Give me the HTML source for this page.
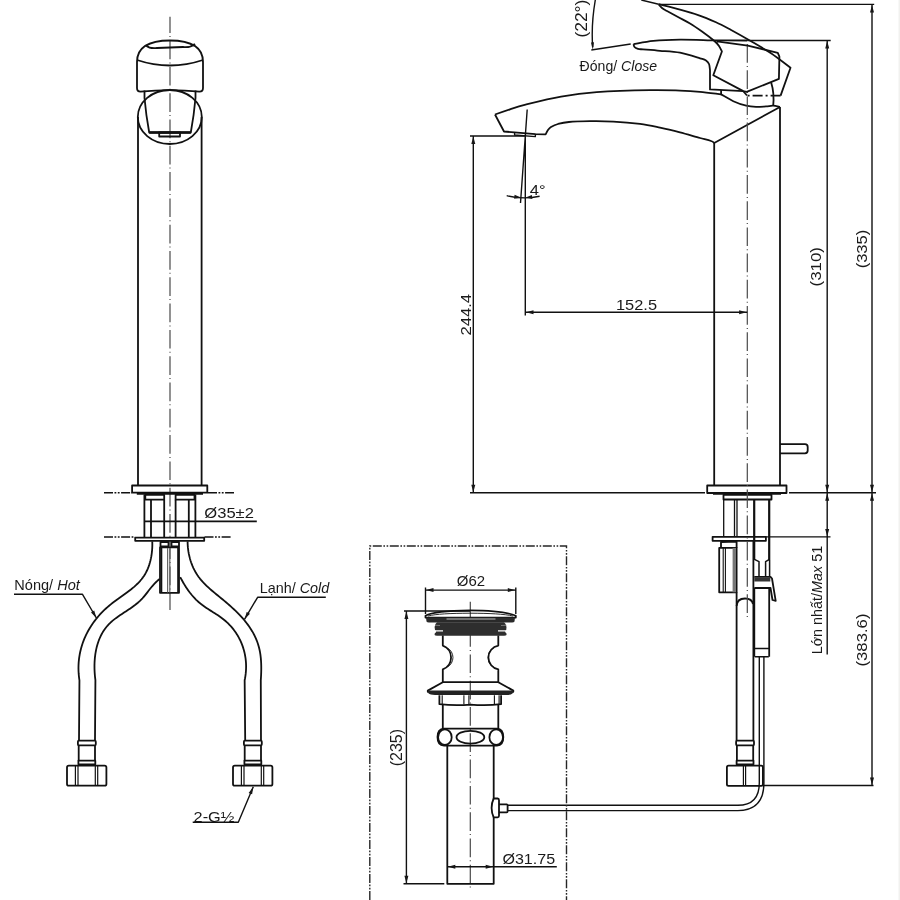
<!DOCTYPE html>
<html><head><meta charset="utf-8"><style>
html,body{margin:0;padding:0;background:#fff;}
svg{display:block;will-change:transform;}
.s{fill:none;stroke:#111;stroke-width:1.8;stroke-linejoin:round;}
.thin{stroke-width:1.4;}
.c{fill:none;stroke:#4a4a4a;stroke-width:1.2;}
.d{fill:none;stroke:#111;stroke-width:1.6;}
.f{fill:#161616;stroke:none;}
.t{font-family:"Liberation Sans",sans-serif;font-size:15px;fill:#1a1a1a;}
</style></head><body>
<svg width="900" height="900" viewBox="0 0 900 900">
<rect x="0" y="0" width="900" height="900" fill="#fff"/>
<rect x="898.5" y="0" width="1.5" height="900" fill="#f1f1ef"/>
<line x1="170" y1="16.7" x2="170" y2="610" class="c" stroke-dasharray="18.7 3.1 1 3.5" stroke-dashoffset="2.4"/>
<path d="M137,62 C137,44 155,40.5 170,40.5 C185,40.5 203,44 203,62 L203,88 Q203,91.7 199.5,91.7 Q170,88.6 140.5,91.7 Q137,91.7 137,88 Z" class="s"/>
<path d="M137,60 Q170,71 203,60" class="s"/>
<path d="M146,45.5 Q150,49 157,48 L183,47 Q190,48 195,44" class="s"/>
<path d="M144.5,90.5 L144.5,98" class="s"/><path d="M195.5,90.5 L195.5,98" class="s"/>
<ellipse cx="169.8" cy="117" rx="32" ry="27" class="s"/>
<path d="M144.5,98 Q146,115 149.2,132.5 L190.8,132.5 Q194,115 195.5,98" class="s"/>
<path d="M149.2,132.5 L190.8,132.5" class="s" style="stroke-width:2.4"/>
<rect x="159.2" y="132.5" width="20.8" height="4" class="s"/>
<path d="M138,117 L138,485.5 M201.6,117 L201.6,485.5" class="s"/>
<rect x="132.1" y="485.5" width="75.2" height="7.2" class="s"/>
<line x1="136.8" y1="493.8" x2="203" y2="493.8" class="s" style="stroke-width:2"/>
<line x1="104" y1="492.7" x2="132" y2="492.7" class="d" stroke-dasharray="9 1.5 1.8 1.5 1.8 1.5"/>
<line x1="208" y1="492.7" x2="234" y2="492.7" class="d" stroke-dasharray="9 1.5 1.8 1.5 1.8 1.5"/>
<line x1="104" y1="537" x2="135" y2="537" class="d" stroke-dasharray="9 1.5 1.8 1.5 1.8 1.5"/>
<line x1="204.5" y1="537" x2="231" y2="537" class="d" stroke-dasharray="9 1.5 1.8 1.5 1.8 1.5"/>
<path d="M144.4,494.5 L144.4,537 M195.4,494.5 L195.4,537 M151,499.7 L151,537 M164.2,499.7 L164.2,537 M175.6,499.7 L175.6,537 M188.8,499.7 L188.8,537" class="s"/>
<path d="M145.3,494.8 L164.2,494.8 L164.2,499.7 L145.3,499.7 Z M175.6,494.8 L194.5,494.8 L194.5,499.7 L175.6,499.7 Z" class="s"/>
<line x1="144.4" y1="521.4" x2="256.8" y2="521.4" class="s"/>
<text x="204.3" y="517.5" textLength="49.6" lengthAdjust="spacingAndGlyphs" class="t">Ø35±2</text>
<rect x="135.2" y="537.6" width="69" height="3.2" class="s"/>
<path d="M160.5,542 L168.5,542 L168.5,546.5 L160.5,546.5 Z M171.5,542 L179,542 L179,546.5 L171.5,546.5 Z" class="s"/>
<rect x="160" y="547.4" width="19" height="45.4" class="s"/>
<path d="M161.5,548 L161.5,592.5 M178,548 L178,592.5" class="s" style="stroke-width:1.6"/>
<path d="M167.6,548 L167.6,592.5 M169.8,548 L169.8,592.5" stroke="#666" stroke-width="1.2"/>
<path d="M152.26,541.35 L152.32,543.44 L152.32,545.56 L152.25,547.69 L152.12,549.83 L151.92,551.98 L151.66,554.12 L151.33,556.26 L150.93,558.38 L150.45,560.49 L149.91,562.57 L149.29,564.62 L148.60,566.63 L147.83,568.60 L146.98,570.52 L146.05,572.39 L145.04,574.19 L143.95,575.93 L142.78,577.61 L141.54,579.22 L140.23,580.78 L138.85,582.29 L137.42,583.76 L135.94,585.18 L134.41,586.56 L132.83,587.91 L131.22,589.23 L129.57,590.52 L127.90,591.80 L126.20,593.06 L124.49,594.30 L122.76,595.54 L121.03,596.78 L119.29,598.02 L117.56,599.27 L115.84,600.52 L114.12,601.79 L112.43,603.08 L110.76,604.39 L109.12,605.73 L107.51,607.11 L105.93,608.51 L104.39,609.95 L102.89,611.42 L101.42,612.91 L99.99,614.44 L98.60,616.00 L97.25,617.59 L95.94,619.20 L94.67,620.85 L93.44,622.52 L92.25,624.21 L91.11,625.94 L90.01,627.69 L88.96,629.46 L87.95,631.26 L86.99,633.08 L86.07,634.93 L85.20,636.80 L84.38,638.69 L83.61,640.60 L82.90,642.53 L82.23,644.49 L81.61,646.46 L81.05,648.45 L80.54,650.47 L80.08,652.50 L79.68,654.54 L79.34,656.61 L79.05,658.69 L78.82,660.79 L78.64,662.90 L78.53,665.03 L78.47,667.17 L78.48,669.33 L78.55,671.50 L78.68,673.68 L78.87,675.87 L79.12,678.08 L79.44,680.30 L79,740.7" class="s"/>
<path d="M159.64,579.01 L158.33,580.05 L157.09,581.13 L155.89,582.25 L154.75,583.40 L153.65,584.59 L152.58,585.80 L151.54,587.04 L150.52,588.29 L149.52,589.55 L148.53,590.81 L147.55,592.08 L146.56,593.35 L145.57,594.60 L144.56,595.84 L143.52,597.07 L142.47,598.27 L141.37,599.44 L140.24,600.58 L139.07,601.69 L137.86,602.76 L136.61,603.80 L135.33,604.82 L134.02,605.81 L132.69,606.78 L131.34,607.74 L129.97,608.68 L128.59,609.60 L127.21,610.52 L125.81,611.44 L124.42,612.35 L123.02,613.26 L121.64,614.17 L120.26,615.10 L118.89,616.03 L117.55,616.97 L116.22,617.92 L114.92,618.90 L113.65,619.90 L112.41,620.92 L111.20,621.96 L110.04,623.04 L108.91,624.15 L107.84,625.30 L106.81,626.48 L105.83,627.70 L104.89,628.94 L104.00,630.22 L103.16,631.54 L102.36,632.87 L101.60,634.24 L100.88,635.64 L100.21,637.05 L99.58,638.50 L98.98,639.96 L98.43,641.45 L97.92,642.95 L97.45,644.48 L97.01,646.02 L96.61,647.58 L96.25,649.15 L95.92,650.73 L95.63,652.33 L95.37,653.94 L95.15,655.55 L94.96,657.18 L94.80,658.81 L94.68,660.45 L94.58,662.09 L94.52,663.73 L94.48,665.38 L94.48,667.02 L94.50,668.67 L94.55,670.31 L94.63,671.95 L94.74,673.58 L94.87,675.21 L95.02,676.83 L95.20,678.44 L95.41,680.04 L95,740.7" class="s"/>
<path d="M187.60,541.37 L187.64,543.47 L187.75,545.57 L187.92,547.68 L188.17,549.79 L188.48,551.90 L188.86,553.99 L189.31,556.07 L189.83,558.14 L190.41,560.18 L191.06,562.20 L191.78,564.19 L192.57,566.15 L193.42,568.06 L194.34,569.94 L195.33,571.77 L196.38,573.55 L197.49,575.28 L198.67,576.95 L199.91,578.57 L201.20,580.15 L202.54,581.68 L203.93,583.17 L205.37,584.63 L206.84,586.06 L208.34,587.46 L209.88,588.84 L211.44,590.20 L213.02,591.54 L214.62,592.88 L216.24,594.20 L217.86,595.53 L219.49,596.85 L221.12,598.18 L222.75,599.52 L224.37,600.86 L225.99,602.22 L227.59,603.60 L229.18,604.98 L230.76,606.38 L232.32,607.80 L233.86,609.23 L235.38,610.68 L236.88,612.15 L238.35,613.63 L239.79,615.13 L241.21,616.66 L242.59,618.20 L243.94,619.77 L245.26,621.36 L246.53,622.97 L247.77,624.61 L248.97,626.27 L250.12,627.95 L251.22,629.67 L252.28,631.41 L253.28,633.17 L254.23,634.97 L255.13,636.80 L255.97,638.66 L256.75,640.54 L257.47,642.46 L258.13,644.42 L258.72,646.41 L259.24,648.43 L259.70,650.48 L260.09,652.57 L260.41,654.68 L260.68,656.81 L260.89,658.96 L261.05,661.12 L261.16,663.28 L261.23,665.43 L261.26,667.59 L261.25,669.73 L261.21,671.85 L261.14,673.96 L261.05,676.04 L260.93,678.08 L260.79,680.09 L261,740.7" class="s"/>
<path d="M180.24,577.06 L181.01,578.55 L181.80,580.03 L182.61,581.50 L183.43,582.94 L184.28,584.37 L185.14,585.78 L186.02,587.16 L186.93,588.53 L187.85,589.88 L188.81,591.20 L189.78,592.50 L190.78,593.78 L191.80,595.03 L192.86,596.26 L193.94,597.46 L195.05,598.63 L196.18,599.78 L197.35,600.89 L198.55,601.98 L199.79,603.04 L201.05,604.06 L202.35,605.06 L203.68,606.03 L205.03,606.98 L206.40,607.91 L207.78,608.82 L209.18,609.72 L210.58,610.62 L211.99,611.51 L213.41,612.40 L214.81,613.30 L216.21,614.20 L217.60,615.11 L218.98,616.04 L220.34,616.98 L221.67,617.95 L222.98,618.94 L224.25,619.96 L225.50,621.01 L226.71,622.09 L227.89,623.20 L229.04,624.34 L230.15,625.51 L231.23,626.70 L232.27,627.92 L233.28,629.17 L234.25,630.44 L235.19,631.73 L236.09,633.05 L236.95,634.39 L237.78,635.76 L238.57,637.14 L239.32,638.55 L240.04,639.98 L240.72,641.42 L241.36,642.89 L241.96,644.37 L242.52,645.87 L243.04,647.39 L243.52,648.93 L243.96,650.47 L244.36,652.04 L244.73,653.62 L245.04,655.21 L245.32,656.81 L245.56,658.43 L245.75,660.05 L245.90,661.69 L246.01,663.34 L246.07,665.00 L246.09,666.66 L246.07,668.33 L246.00,670.01 L245.89,671.70 L245.73,673.39 L245.53,675.09 L245.28,676.79 L244.99,678.50 L244.65,680.20 L245.2,740.7" class="s"/>
<rect x="77.9" y="740.7" width="17.900000000000002" height="4.6" rx="1" class="s"/><path d="M78.7,745.3 L78.7,760.7 M95.0,745.3 L95.0,760.7" class="s"/><rect x="78.4" y="760.7" width="16.900000000000002" height="3.6" class="s"/><rect x="67.0" y="765.7" width="39.4" height="20" rx="1.8" class="s"/><path d="M75.4,766 L75.4,785.5 M78.0,766 L78.0,785.5 M95.3,766 L95.3,785.5 M97.7,766 L97.7,785.5" class="s" style="stroke-width:1.2"/>
<rect x="243.89999999999998" y="740.7" width="17.900000000000002" height="4.6" rx="1" class="s"/><path d="M244.7,745.3 L244.7,760.7 M261.0,745.3 L261.0,760.7" class="s"/><rect x="244.39999999999998" y="760.7" width="16.900000000000002" height="3.6" class="s"/><rect x="233.0" y="765.7" width="39.4" height="20" rx="1.8" class="s"/><path d="M241.39999999999998,766 L241.39999999999998,785.5 M244.0,766 L244.0,785.5 M261.3,766 L261.3,785.5 M263.7,766 L263.7,785.5" class="s" style="stroke-width:1.2"/>
<text x="14.3" y="590.2" textLength="65.5" lengthAdjust="spacingAndGlyphs" class="t">Nóng/ <tspan font-style="italic">Hot</tspan></text>
<path d="M14,594.3 L82.5,594.3 L96.4,618" class="s thin"/>
<path d="M96.4,618.0 L91.0,612.5 L94.2,610.6 Z" class="f"/>
<text x="259.7" y="592.7" textLength="69.5" lengthAdjust="spacingAndGlyphs" class="t">Lạnh/ <tspan font-style="italic">Cold</tspan></text>
<path d="M325.8,597.3 L257.6,597.3 L244.5,619.3" class="s thin"/>
<path d="M244.5,619.3 L246.7,611.9 L250.0,613.8 Z" class="f"/>
<text x="193.6" y="821.7" textLength="40.8" lengthAdjust="spacingAndGlyphs" class="t">2-G½</text>
<path d="M192.7,822.3 L238.3,822.3 L253.3,786.7" class="s thin"/>
<path d="M253.3,786.7 L252.1,794.3 L248.6,792.9 Z" class="f"/>
<path d="M495.0,114.5 C497.5,113.6 504.9,111.0 510.0,109.3 C515.1,107.6 517.1,106.7 525.6,104.6 C534.1,102.5 549.2,98.7 561.1,96.6 C573.0,94.5 581.9,93.2 596.7,92.1 C611.5,91.0 636.1,90.3 650.0,90.1 C663.9,89.8 671.7,90.3 680.0,90.6 C688.3,90.9 693.1,91.2 700.0,91.8 C706.9,92.4 717.6,94.0 721.1,94.4" class="s"/>
<path d="M721.1,94.4 C723.1,95.5 729.1,99.3 733.3,101.2 C737.5,103.1 742.4,104.8 746.2,105.7 C750.0,106.7 752.7,106.8 756.0,106.9 C759.3,107.0 763.1,106.6 766.0,106.4 C768.9,106.2 770.8,105.6 773.1,105.7 C775.4,105.8 778.9,106.8 780.0,107.0" class="s"/>
<path d="M495,114.5 L504,131.5 L514.4,132.4 L535.5,134.2 L545.6,134.4  C546.0,133.7 547.1,131.2 548.0,130.0 C548.9,128.8 549.3,128.0 551.0,127.0 C552.7,126.0 555.0,124.8 558.0,124.0 C561.0,123.2 563.6,122.5 568.9,122.0 C574.2,121.5 582.6,121.3 590.0,121.2 C597.4,121.1 605.0,121.1 613.3,121.6 C621.6,122.0 632.2,122.9 640.0,123.9 C647.8,124.9 653.3,126.2 660.0,127.6 C666.7,129.0 673.3,130.6 680.0,132.3 C686.7,134.0 694.8,136.6 700.0,138.0 C705.2,139.4 708.6,140.2 711.0,141.0 C713.4,141.8 713.7,142.7 714.2,143.0" class="s"/>
<path d="M514.6,132.6 L514.6,135 L535.3,136.6 L535.5,134.4" class="s thin"/>
<path d="M714.2,143 L780,107 M714.2,143 L714.2,485.5 M780,107 L780,485.5" class="s"/>
<path d="M780,444.2 L805,444.2 Q807.7,444.2 807.7,447 L807.7,450.6 Q807.7,453.3 805,453.3 L780,453.3" class="s"/>
<rect x="707.2" y="485.5" width="79.3" height="7.5" class="s"/>
<line x1="713" y1="493.9" x2="781" y2="493.9" class="s" style="stroke-width:1.8"/>
<rect x="723.5" y="494.8" width="48" height="4.7" class="s"/>
<path d="M723.7,499.5 L723.7,537 M734.5,499.5 L734.5,537 M737,499.5 L737,537" class="s" style="stroke-width:1.3"/>
<path d="M754.2,499.5 L754.2,560 M769.2,499.5 L769.2,560" class="s" style="stroke-width:2.2"/>
<rect x="712.6" y="536.8" width="53.3" height="4" class="s"/>
<path d="M721,547.9 L721,542 L736.6,541.7 L736.6,547.9" class="s"/>
<rect x="719.2" y="547.9" width="17.4" height="44.4" class="s"/>
<path d="M723.2,547.9 L723.2,592.3 M725.4,547.9 L725.4,592.3" class="s" style="stroke-width:1.1"/>
<rect x="732.6" y="547.9" width="3.4" height="44.4" fill="#777"/>
<path d="M736.6,592.3 L736.6,740.8 M753.4,541 L753.4,740.8" class="s"/>
<path d="M736.6,606 Q737,598.5 745,598.5 Q752,598.5 753,604" class="s"/>
<rect x="736.1" y="740.7" width="17.900000000000002" height="4.6" rx="1" class="s"/><path d="M736.9,745.3 L736.9,760.7 M753.1999999999999,745.3 L753.1999999999999,760.7" class="s"/><rect x="736.6" y="760.7" width="16.900000000000002" height="3.6" class="s"/>
<rect x="726.9" y="765.6" width="36" height="20.2" rx="1.6" class="s"/>
<path d="M743.4,766 L743.4,785.5 M745.6,766 L745.6,785.5" class="s" style="stroke-width:1.2"/>
<path d="M754.4,559.3 L759,561.6 L759,576.8 M769.4,559.3 L765.6,561.6 L765.6,576.8 M769.6,560 L769.6,576.8" class="s" style="stroke-width:1.5"/>
<path d="M754.3,576.8 L770.5,576.8 L772,578.5 L775.7,600.8 L772.5,600 L770.5,588 L754.3,588" class="s"/>
<rect x="754.3" y="577.5" width="16" height="4" fill="#333"/>
<path d="M754.3,588 L754.3,656.7 M769.2,588 L769.2,656.7" class="s"/>
<path d="M754.3,648.5 L769.2,648.5 M754.8,656.7 L768.8,656.7" class="s" style="stroke-width:1.4"/>
<path d="M759.3,657 L759.3,783 M763.9,657 L763.9,783" class="s" style="stroke-width:1.4"/>
<path d="M759.3,783 Q759.3,805.3 737.8,805.3 L508,805.3 M763.9,783 Q763.9,810.6 737.8,810.6 L508,810.6" class="s" style="stroke-width:1.4"/>
<line x1="747.3" y1="40" x2="747.3" y2="617" class="c" stroke-dasharray="18.7 3.2 1 3.3" stroke-dashoffset="22.2"/>
<path d="M641.3,0 L658.7,4.2" class="s thin"/>
<path d="M658.7,4.2 C662.2,5.1 673.3,7.7 680.0,9.6 C686.7,11.4 692.9,13.2 698.9,15.3 C704.9,17.4 710.6,19.9 716.0,22.3 C721.4,24.8 725.6,27.1 731.1,30.0 C736.6,33.0 742.2,36.1 748.9,40.0 C755.5,43.9 764.1,48.7 771.0,53.3 C777.9,57.9 787.2,65.4 790.5,67.8 L780.6,95.6" class="s"/>
<path d="M780.6,95.6 L747,95.6" class="s" stroke-dasharray="10 3 2 3"/>
<path d="M658.7,4.5 C659.2,5.1 660.6,6.9 662.0,8.0 C663.4,9.1 664.3,9.5 667.0,11.0 C669.7,12.5 674.2,14.9 678.0,17.0 C681.8,19.1 686.0,21.1 690.0,23.5 C694.0,25.9 697.9,28.6 702.0,31.5 C706.1,34.4 711.6,38.6 714.4,41.0 C717.2,43.4 717.8,44.2 719.0,46.0 C720.2,47.8 721.4,50.6 721.9,51.5 L713.3,75.3 L743.3,91.1 L746.7,91.8 L778.9,78.9 L779.4,56.7 L777.8,52.8 L747.8,45.6 L716.7,41.3" class="s"/>
<path d="M633.5,44.2 C633.7,44.7 633.8,46.2 634.5,47.0 C635.2,47.8 636.6,48.4 638.0,48.8 C639.4,49.2 639.3,49.1 643.0,49.4 C646.7,49.7 653.8,50.2 660.0,50.8 C666.2,51.3 673.3,51.5 680.0,52.7 C686.7,54.0 695.7,57.0 700.0,58.3 C704.3,59.6 704.5,59.5 706.0,60.5 C707.5,61.5 708.3,62.4 709.0,64.0 C709.7,65.6 709.8,69.0 710.0,70.0 L710,89.4 L743.3,91.1" class="s"/>
<path d="M633.5,44.2 C636.8,43.7 645.5,41.7 653.3,40.9 C661.0,40.1 669.4,39.7 680.0,39.6 C690.6,39.5 705.5,40.2 716.7,40.4 C727.9,40.5 742.0,40.5 747.0,40.5" class="s"/>
<path d="M721.1,90 L721.1,95" class="s"/>
<path d="M771.1,82.2 Q774.5,93 773.2,105.8" class="s"/>
<path d="M743.5,91.5 L747,95.5" class="s"/>
<path d="M595.3,0 Q591,25 592.7,47" class="s thin"/>
<path d="M592.8,50 L591,42.5 L594,42.3 Z" class="f"/>
<path d="M591.3,50 L630.7,44" class="s thin"/>
<path d="M369.8,900 L369.8,546 L566.5,546 L566.5,900" fill="none" stroke="#262626" stroke-width="1.4" stroke-dasharray="9 1.6 1.6 1.6 1.6 1.6"/>
<line x1="470.3" y1="601.8" x2="470.3" y2="889" class="c" stroke-dasharray="18.7 3.1 1 3.5"/>
<path d="M425.5,617.6 L425.5,615.8 C432,612.2 448,610.6 470,610.4 C492,610.6 508,612.2 515.8,615.8 L515.8,617.6 Z" class="s"/>
<path d="M428,616 C436,614 450,613.3 470,613.2 C490,613.3 504,614 513,616" class="s" style="stroke-width:0.9"/>
<path d="M426,617.5 L515,617.5 L514.5,621.5 Q514,622.6 512,622.6 L429,622.6 Q427,622.6 426.5,621.5 Z" fill="#2a2a2a"/>
<line x1="446.5" y1="619" x2="495.5" y2="619" stroke="#bbb" stroke-width="1"/>
<path d="M437,622.2 L504,622.2 Q506.5,624 506.5,627 Q506.8,630 505,631.2 L505.5,632.6 Q507,633.5 506.5,635 Q506,635.8 504,635.8 L437,635.8 Q435,635.8 434.6,635 Q434.2,633.5 435.8,632.6 L436.2,631.2 Q434.5,630 434.6,627 Q434.6,624 437,622.2 Z" fill="#2e2e2e"/>
<path d="M434.5,630.8 L443,630.8 M498,630.8 L507,630.8" stroke="#fff" stroke-width="1.2"/>
<path d="M435,625.3 L440,625.5 M501,625.5 L506.5,625.3" stroke="#888" stroke-width="0.8"/>
<path d="M442.8,635.6 L442.8,645.6 A12.7,12.7 0 0 1 442.8,669.4 L442.8,682.2" class="s"/>
<path d="M498.3,635.6 L498.3,645.6 A12.1,12.1 0 0 0 498.3,669.4 L498.3,682.2" class="s"/>
<path d="M447.5,648 A11,11 0 0 1 447.5,667" class="s" style="stroke-width:0.9"/>
<path d="M494,647.5 A11.5,11.5 0 0 0 494,667.5" class="s" style="stroke-width:0.9"/>
<path d="M442.8,682.2 L498.3,682.2 L513.3,690.6 L513.3,691.8 L427.8,691.8 L427.8,690.6 Z" class="s"/>
<path d="M427.6,690.6 L513.6,690.6 L512.5,693.6 Q511,695 506,695 L435,695 Q430,695 428.6,693.6 Z" fill="#222"/>
<path d="M439.4,695.2 L439.4,704.2 Q455,706 470.5,704.6 Q486,706 501.1,704.2 L501.1,695.2" class="s"/>
<path d="M442.2,695.2 L442.2,704 M463.9,695.2 L463.9,704.6 M468.9,695.2 L468.9,704.6 M494.4,695.2 L494.4,704.4 M499.1,695.2 L499.1,704.2" class="s" style="stroke-width:1.1"/>
<path d="M442.8,705 L442.8,729 M498.3,705 L498.3,729" class="s"/>
<path d="M444,728.6 L497,728.6 Q503.3,729 503.3,737 Q503.3,745.3 497,745.7 L444,745.7 Q437.5,745.3 437.5,737 Q437.5,729 444,728.6 Z" class="s"/>
<ellipse cx="444.9" cy="737.2" rx="6.8" ry="7.8" class="s"/>
<ellipse cx="496.2" cy="737.2" rx="6.8" ry="7.8" class="s"/>
<ellipse cx="470.4" cy="737.2" rx="13.9" ry="6.4" class="s"/>
<path d="M447.3,745.7 L447.3,883.8 L493.7,883.8 L493.7,745.7" class="s"/>
<path d="M493.7,798.5 L497.6,798.5 Q499,798.7 499,800.2 L499,815.8 Q499,817.3 497.6,817.3 L493.7,817.3 Q491.6,813 491.6,807.9 Q491.6,802.8 493.7,798.5 Z" style="fill:#fff" class="s"/>
<path d="M499,804.4 L506.8,804.4 Q507.6,804.6 507.6,805.5 L507.6,811.3 Q507.6,812.3 506.8,812.3 L499,812.3" class="s"/>
<path d="M425.5,587.5 L425.5,614 M515.8,587.5 L515.8,614 M425.5,590.1 L515.8,590.1" class="s thin"/>
<path d="M426.0,590.1 L433.5,588.1 L433.5,592.1 Z" class="f"/>
<path d="M515.3,590.1 L507.8,592.1 L507.8,588.1 Z" class="f"/>
<path d="M404,611 L470,611 M406.4,611 L406.4,883.8 M403.5,883.8 L444.3,883.8" class="s thin"/>
<path d="M406.4,611.5 L408.4,619.0 L404.4,619.0 Z" class="f"/>
<path d="M406.4,883.3 L404.4,875.8 L408.4,875.8 Z" class="f"/>
<path d="M447.3,866.7 L556.8,866.7" class="s thin"/>
<path d="M447.8,866.7 L455.3,864.7 L455.3,868.7 Z" class="f"/>
<path d="M493.2,866.7 L485.7,868.7 L485.7,864.7 Z" class="f"/>
<path d="M470,136 L525,136 M470,492.8 L705,492.8 M473.3,136 L473.3,492.8" class="s thin"/>
<path d="M473.3,136.5 L475.3,144.0 L471.3,144.0 Z" class="f"/>
<path d="M473.3,492.3 L471.3,484.8 L475.3,484.8 Z" class="f"/>
<text transform="translate(470.6,335.5) rotate(-90)" textLength="41.5" lengthAdjust="spacingAndGlyphs" class="t" style="font-size:15px" >244.4</text>
<path d="M525.3,136 L525.3,315.5 M527.2,109.5 L520.5,203" class="s thin"/>
<path d="M506.7,195.6 Q523,199.8 539.6,196.3" class="s thin"/>
<path d="M520.8,197.6 L514.1,198.8 L514.6,194.8 Z" class="f"/>
<path d="M525.6,197.6 L531.9,195.0 L532.3,198.9 Z" class="f"/>
<text x="529.8" y="194.6" textLength="15.8" lengthAdjust="spacingAndGlyphs" class="t" style="font-size:15px" >4°</text>
<path d="M525.4,312.3 L747.2,312.3" class="s thin"/>
<path d="M526.0,312.3 L533.5,310.3 L533.5,314.3 Z" class="f"/>
<path d="M746.6,312.3 L739.1,314.3 L739.1,310.3 Z" class="f"/>
<text x="616" y="310.3" textLength="41" lengthAdjust="spacingAndGlyphs" class="t" style="font-size:15px" >152.5</text>
<path d="M747.2,40.5 L830.7,40.5 M827.2,40.5 L827.2,492.8" class="s thin"/>
<path d="M827.2,41.0 L829.2,48.5 L825.2,48.5 Z" class="f"/>
<path d="M827.2,492.3 L825.2,484.8 L829.2,484.8 Z" class="f"/>
<text transform="translate(821.3,286.5) rotate(-90)" textLength="39.5" lengthAdjust="spacingAndGlyphs" class="t" style="font-size:15.5px" >(310)</text>
<path d="M658.7,4.4 L874.2,4.4 M872,4.4 L872,785.5" class="s thin"/>
<path d="M872.0,4.9 L874.0,12.4 L870.0,12.4 Z" class="f"/>
<path d="M872.0,492.3 L870.0,484.8 L874.0,484.8 Z" class="f"/>
<text transform="translate(866.6,268.3) rotate(-90)" textLength="38.5" lengthAdjust="spacingAndGlyphs" class="t" style="font-size:15.5px" >(335)</text>
<path d="M789,492.8 L876,492.8" class="s thin"/>
<path d="M872.0,493.3 L874.0,500.8 L870.0,500.8 Z" class="f"/>
<path d="M827.2,492.8 L827.2,654.6 M766,536.9 L830.5,536.9" class="s thin"/>
<path d="M827.2,493.3 L829.2,500.8 L825.2,500.8 Z" class="f"/>
<path d="M827.2,536.4 L825.2,528.9 L829.2,528.9 Z" class="f"/>
<text transform="translate(821.8,654.3) rotate(-90)" textLength="108.5" lengthAdjust="spacingAndGlyphs" class="t" style="font-size:15px" >Lớn nhất/<tspan font-style="italic">Max</tspan> 51</text>
<path d="M763,785.5 L873.5,785.5" class="s thin"/>
<path d="M872.0,785.0 L870.0,777.5 L874.0,777.5 Z" class="f"/>
<text transform="translate(866.6,666.5) rotate(-90)" textLength="53" lengthAdjust="spacingAndGlyphs" class="t" style="font-size:15.5px" >(383.6)</text>
<text transform="translate(587.3,37.6) rotate(-90)" textLength="38" lengthAdjust="spacingAndGlyphs" class="t" style="font-size:16px" >(22°)</text>
<text x="579.6" y="70.9" textLength="77.5" lengthAdjust="spacingAndGlyphs" class="t">Đóng/ <tspan font-style="italic">Close</tspan></text>
<text x="456.8" y="585.9" textLength="28.3" lengthAdjust="spacingAndGlyphs" class="t" style="font-size:15.5px" >Ø62</text>
<text x="502.4" y="863.5" textLength="52.7" lengthAdjust="spacingAndGlyphs" class="t" style="font-size:15px" >Ø31.75</text>
<text transform="translate(402,766.3) rotate(-90)" textLength="37.3" lengthAdjust="spacingAndGlyphs" class="t" style="font-size:16px" >(235)</text>
</svg>
</body></html>
